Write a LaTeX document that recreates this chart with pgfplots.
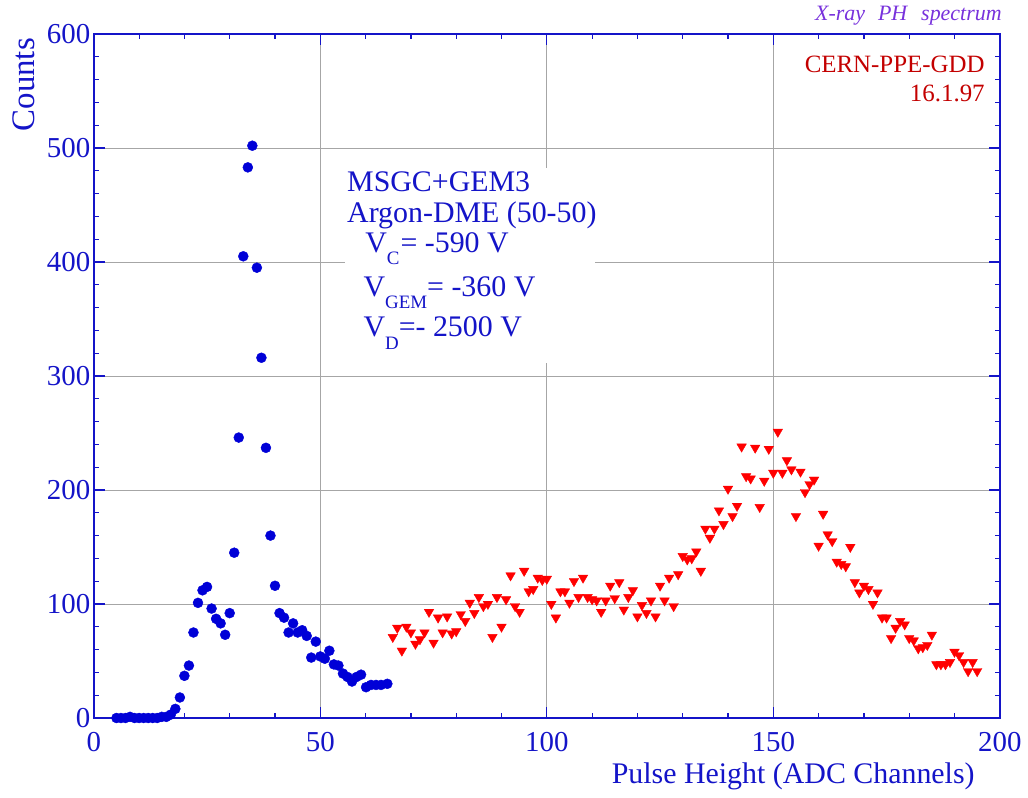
\documentclass[border=0pt]{standalone}
\usepackage{fontspec}
\setmainfont{Liberation Serif}
\usepackage{pgfplots}
\pgfplotsset{compat=1.18}
\definecolor{ablue}{RGB}{20,20,200}
\definecolor{dblue}{RGB}{0,0,215}
\definecolor{tred}{RGB}{195,0,0}
\definecolor{tpurple}{RGB}{120,50,220}
\begin{document}
\begin{tikzpicture}[x=1bp,y=1bp]
\begin{axis}[
 scale only axis, width=906bp, height=684bp,
 xmin=0,xmax=200,ymin=0,ymax=600,
 xtick={0,50,...,200}, ytick={0,100,...,600},
 minor x tick num=4, minor y tick num=4,
 tick align=inside,
 major tick length=11bp, minor tick length=5bp,
 grid=major, major grid style={draw=gray!70, line width=0.8bp},
 axis line style={draw=ablue, line width=1.4bp},
 every tick/.append style={ablue, line width=1.2bp},
 ticklabel style={font=\fontsize{29}{34}\selectfont, text=ablue},
 xticklabel style={yshift=-11bp},
 /pgf/number format/assume math mode=true,
 clip=false,
]
\fill[white] (axis cs:55.5,311) rectangle (axis cs:110.6,482.5);
\addplot[only marks, mark=*, color=dblue, mark size=5bp] coordinates {
(5,0)(6,0)(7,0)(8,1)(9,0)(10,0)(11,0)(12,0)(13,0)(14,0)(15,1)(16,1)(17,3)(18,8)(19,18)
(20,37)(21,46)(22,75)(23,101)(24,112)(25,115)(26,96)(27,87)(28,83)(29,73)(30,92)
(31,145)(32,246)(33,405)(34,483)(35,502)(36,395)(37,316)(38,237)(39,160)(40,116)
(41,92)(42,88)(43,75)(44,83)(45,75)(46,77)(47,72)(48,53)(49,67)(50,54)(51,52)(52,59)
(53,47)(54,46)(55,39)(56,36)(57,32)(58,36)(59,38)(60.1,27)(61.2,29)(62.3,29)(63.4,29)(64.8,30)
};
\addplot[only marks, mark=triangle*, color=red, mark size=5.5bp, mark options={rotate=180}] coordinates {
(66,71)(67,79)(68,59)(69,80)(70,75)(71,65)(72,69)(73,75)(74,93)(75,66)(76,88)(77,75)
(78,89)(79,74)(80,76)(81,91)(82,85)(83,101)(84,92)(85,106)(86,98)(87,100)(88,71)
(89,106)(90,80)(91,104)(92,125)(93,98)(94,93)(95,129)(96,111)(97,113)(98,123)(99,121)
(100,122)(101,100)(102,88)(103,111)(104,111)(105,101)(106,120)(107,106)(108,123)
(109,106)(110,104)(111,103)(112,93)(113,103)(114,116)(115,105)(116,119)(117,95)
(118,106)(119,112)(120,89)(121,99)(122,92)(123,103)(124,89)(125,116)(126,103)(127,123)
(128,98)(129,126)(130,142)(131,139)(132,140)(133,146)(134,129)(135,166)(136,158)
(137,166)(138,182)(139,170)(140,201)(141,177)(142,186)(143,238)(144,212)(145,210)
(146,237)(147,185)(148,208)(149,236)(150,215)(151,251)(152,215)(153,226)(154,218)
(155,177)(156,216)(157,198)(158,205)(159,209)(160,151)(161,179)(162,161)(163,155)
(164,137)(165,135)(166,133)(167,150)(168,119)(169,110)(170,116)(171,113)(172,100)
(173,110)(174,88)(175,88)(176,70)(177,79)(178,85)(179,82)(180,70)(181,68)(182,61)
(183,62)(184,64)(185,73)(186,47)(187,47)(188,47)(189,49)(190,58)(191,55)(192,49)
(193,41)(194,49)(195,41)
};
\begin{scope}[every node/.style={anchor=base west, inner sep=0pt, text=ablue, font=\fontsize{30}{34}\selectfont}]
\node at (axis cs:55.9,461.4) {MSGC+GEM3};
\node at (axis cs:55.9,435) {Argon-DME (50-50)};
\node at (axis cs:59.9,408) {V\raisebox{-12bp}{\fontsize{19}{19}\selectfont C}\kern1bp= -590 V};
\node at (axis cs:59.5,370) {V\raisebox{-12bp}{\fontsize{19}{19}\selectfont GEM}= -360 V};
\node at (axis cs:59.5,335) {V\raisebox{-13bp}{\fontsize{19}{19}\selectfont D}=- 2500 V};
\end{scope}
\node[anchor=base east, inner sep=0pt, text=tred, font=\fontsize{25}{30}\selectfont] at (axis cs:196.7,565.8) {CERN-PPE-GDD};
\node[anchor=base east, inner sep=0pt, text=tred, font=\fontsize{25}{30}\selectfont] at (axis cs:196.7,540.4) {16.1.97};
\coordinate (bl) at (rel axis cs:0,0);
\coordinate (tr) at (rel axis cs:1,1);
\coordinate (tl) at (rel axis cs:0,1);
\coordinate (br) at (rel axis cs:1,0);
\end{axis}
\node[rotate=90, anchor=south east, inner sep=0pt, text=ablue, font=\fontsize{33}{38}\selectfont] at ([xshift=-59bp,yshift=-4bp]tl) {Counts};
\node[anchor=base east, inner sep=0pt, text=ablue, font=\fontsize{30}{34}\selectfont] at ([xshift=-25bp,yshift=-65bp]br) {Pulse Height (ADC Channels)};
\node[anchor=base east, inner sep=0pt, text=tpurple, font=\fontsize{22}{26}\selectfont\itshape] at ([xshift=2bp,yshift=13bp]tr) {X-ray\hspace{13bp}PH\hspace{14bp}spectrum};
\pgfresetboundingbox
\path ([xshift=-93.8bp,yshift=-80bp]bl) rectangle ([xshift=28.2bp,yshift=34bp]tr);
\end{tikzpicture}
\end{document}
